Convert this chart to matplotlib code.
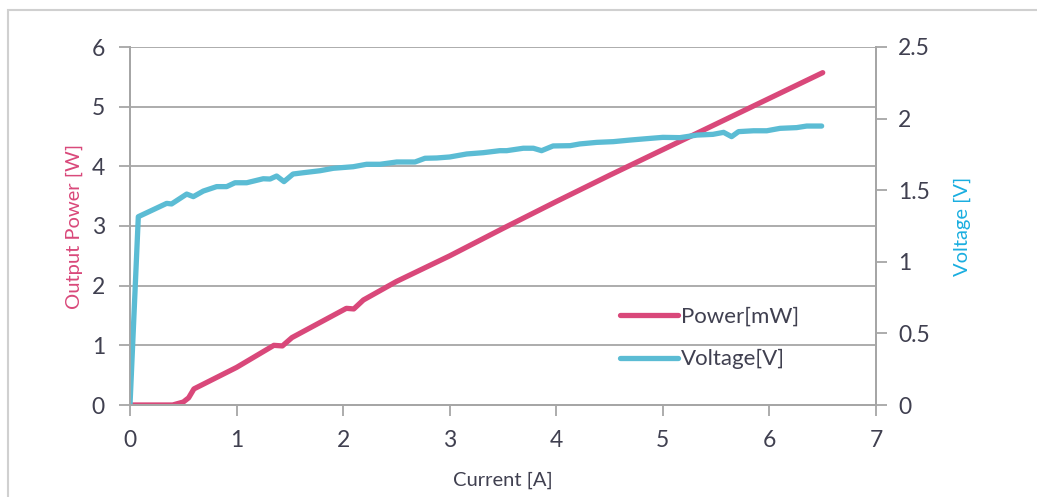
import matplotlib
matplotlib.use("Agg")
import matplotlib.pyplot as plt
from matplotlib.patches import Rectangle
from matplotlib.lines import Line2D

# ---- data ----
power_current = [0.0, 0.4, 0.5, 0.55, 0.6, 1.0, 1.35, 1.43, 1.52, 2.03, 2.1, 2.19,
                 2.5, 3.0, 3.5, 4.0, 4.5, 5.0, 5.5, 6.0, 6.5]
power_values = [0.0, 0.0, 0.05, 0.12, 0.27, 0.63, 1.0, 0.99, 1.13, 1.62, 1.61, 1.76,
                2.07, 2.5, 2.96, 3.41, 3.85, 4.28, 4.71, 5.14, 5.57]

volt_current = [0.0, 0.078, 0.344, 0.39, 0.532, 0.594, 0.688, 0.813, 0.907, 0.985, 1.095,
                1.25, 1.314, 1.376, 1.445, 1.53, 1.626, 1.783, 1.908, 2.095, 2.22, 2.346,
                2.503, 2.674, 2.768, 2.878, 3.0, 3.16, 3.315, 3.47, 3.535, 3.69, 3.785,
                3.862, 3.97, 4.13, 4.22, 4.38, 4.535, 4.69, 4.85, 5.0, 5.16, 5.32, 5.47,
                5.57, 5.645, 5.71, 5.85, 5.975, 6.1, 6.255, 6.35, 6.49]
volt_values = [0.0, 1.315, 1.408, 1.404, 1.473, 1.455, 1.494, 1.525, 1.525, 1.552, 1.552,
               1.58, 1.578, 1.599, 1.56, 1.613, 1.622, 1.636, 1.653, 1.664, 1.681, 1.681,
               1.697, 1.697, 1.723, 1.725, 1.732, 1.753, 1.762, 1.776, 1.776, 1.793, 1.793,
               1.776, 1.809, 1.811, 1.823, 1.834, 1.839, 1.85, 1.86, 1.869, 1.867, 1.885, 1.89,
               1.904, 1.874, 1.909, 1.915, 1.915, 1.932, 1.937, 1.948, 1.948]

x_ticks = [0, 1, 2, 3, 4, 5, 6, 7]
y_left_ticks = [0, 1, 2, 3, 4, 5, 6]
y_right_ticks = [0, 0.5, 1, 1.5, 2, 2.5]
y_right_labels = ["0", "0.5", "1", "1.5", "2", "2.5"]

# ---- style ----
plt.rcParams['font.family'] = ['Lato', 'DejaVu Sans']
PINK = '#d9487a'
CYAN = '#5bbcd4'
GRID = '#a6a6a6'
TXT = '#404050'

W, H = 1037, 497
fig = plt.figure(figsize=(W / 100, H / 100), dpi=100)
fig.patch.set_facecolor('white')
fig.patches.append(Rectangle((8 / W, -0.1), 1.2, 1 - 10 / H + 0.1, transform=fig.transFigure,
                             fill=False, edgecolor='#d0d0d0', linewidth=1.5, zorder=0))

ax = fig.add_axes([130 / W, 1 - 405 / H, (876 - 130) / W, (405 - 47) / H])
ax2 = ax.twinx()

ax.plot(power_current, power_values, color=PINK, lw=3.8, solid_capstyle='round',
        solid_joinstyle='round', label='Power[mW]')
ax2.plot(volt_current, volt_values, color=CYAN, lw=3.8, solid_capstyle='round',
         solid_joinstyle='round', label='Voltage[V]')

ax.set_xlim(0, 7)
ax.set_ylim(0, 6)
ax2.set_ylim(0, 2.5)
ax.set_xticks(x_ticks)
ax.set_yticks(y_left_ticks)
ax2.set_yticks(y_right_ticks)
ax2.set_yticklabels(y_right_labels)

ax.grid(axis='y', color=GRID, lw=1.3)
ax.set_axisbelow(True)

for a in (ax, ax2):
    for s in a.spines.values():
        s.set_color(GRID)
        s.set_linewidth(1.3)
    a.spines['top'].set_visible(False)
    a.tick_params(colors=GRID, labelcolor=TXT, labelsize=16.5, length=8, width=1.3)

ax.tick_params(axis='x', pad=10)
ax.tick_params(axis='y', pad=10)
ax2.tick_params(axis='y', pad=8)

ax.set_xlabel('Current [A]', fontsize=14.5, color=TXT, labelpad=15)
ax.set_ylabel('Output Power [W]', fontsize=14.5, color='#d9487a', labelpad=6)
ax2.set_ylabel('Voltage [V]', fontsize=14.5, color='#1aaee0', labelpad=17)

handles = [Line2D([], [], color=PINK, lw=3.8, solid_capstyle='round'),
           Line2D([], [], color=CYAN, lw=3.8, solid_capstyle='round')]
leg = ax2.legend(handles, ['Power[mW]', 'Voltage[V]'], loc='upper left',
                 bbox_to_anchor=((620 - 130) / (876 - 130), (405 - 307) / (405 - 47)),
                 frameon=False, fontsize=16, handlelength=2.6, handletextpad=0.15,
                 labelspacing=1.0, borderaxespad=0, borderpad=0)
for t in leg.get_texts():
    t.set_color(TXT)

fig.savefig('out.png', dpi=100, facecolor='white')
